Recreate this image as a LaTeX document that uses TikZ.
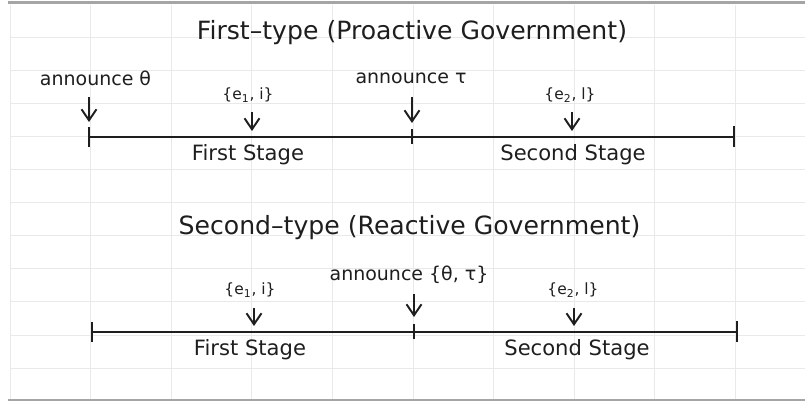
\documentclass[tikz,border=0pt]{standalone}
\usepackage{fontspec}
\setmainfont{DejaVu Sans}
\usetikzlibrary{arrows.meta}

\definecolor{gridgray}{RGB}{233,233,233}
\definecolor{framegray}{RGB}{165,165,165}
\definecolor{ink}{RGB}{30,30,30}

\tikzset{
  >={Straight Barb[length=0.22cm,width=0.3cm]},
  heading/.style={font=\fontsize{14.3}{17}\selectfont,text=ink},
  note/.style={font=\fontsize{10.8}{13}\selectfont,text=ink},
  setlabel/.style={font=\fontsize{8.8}{10}\selectfont,text=ink},
  stagelabel/.style={font=\fontsize{12}{14}\selectfont,text=ink},
  timeline/.style={draw=ink,line width=0.75pt},
  endtick/.style={draw=ink,line width=1.7pt},
  midtick/.style={draw=ink,line width=0.85pt},
  pointer/.style={draw=ink,->,line width=1.1pt}
}

\begin{document}
\begin{tikzpicture}
  \useasboundingbox (0,0) rectangle (16.1,8.06);
  % background sheet
  \draw[gridgray,xstep=1.612,ystep=0.662,shift={(0.2,0.7)}] (0,-0.62) grid (15.9,7.25);
  \draw[framegray,line width=1.7pt] (0.16,8.0) -- (16.1,8.0);
  \draw[framegray,line width=1.7pt] (0.16,0.06) -- (16.1,0.06);

  % first type
  \node[heading] (head1) at (8.24,7.40) {First–type (Proactive Government)};
  \coordinate (s1) at (1.78,5.32);
  \coordinate (m1) at (8.24,5.32);
  \coordinate (e1) at (14.68,5.32);
  \coordinate (c1) at (5.04,5.32);
  \coordinate (d1) at (11.44,5.32);
  \draw[timeline] (s1) -- (e1);
  \draw[endtick] ([yshift=-0.2cm]s1) -- ([yshift=0.2cm]s1);
  \draw[midtick] ([yshift=-0.14cm]m1) -- ([yshift=0.16cm]m1);
  \draw[endtick] ([yshift=-0.21cm]e1) -- ([yshift=0.21cm]e1);
  \node[note] (ann1) at (1.91,6.5) {announce θ};
  \node[note] (ann2) at (8.22,6.5) {announce τ};
  \node[setlabel] (set1) at (4.96,6.16) {\{e\textsubscript{1}, i\}};
  \node[setlabel] (set2) at (11.4,6.16) {\{e\textsubscript{2}, l\}};
  \draw[pointer] ([yshift=0.8cm]s1) -- ([yshift=0.3cm]s1);
  \draw[pointer] ([yshift=0.8cm]m1) -- ([yshift=0.28cm]m1);
  \draw[pointer] ([yshift=0.5cm]c1) -- ([yshift=0.12cm]c1);
  \draw[pointer] ([yshift=0.5cm]d1) -- ([yshift=0.12cm]d1);
  \node[stagelabel] (stage1) at (4.96,4.96) {First Stage};
  \node[stagelabel] (stage2) at (11.46,4.96) {Second Stage};

  % second type
  \node[heading] (head2) at (8.19,3.5) {Second–type (Reactive Government)};
  \coordinate (s2) at (1.84,1.42);
  \coordinate (m2) at (8.28,1.42);
  \coordinate (e2) at (14.74,1.42);
  \coordinate (c2) at (5.08,1.42);
  \coordinate (d2) at (11.48,1.42);
  \draw[timeline] (s2) -- (e2);
  \draw[endtick] ([yshift=-0.2cm]s2) -- ([yshift=0.2cm]s2);
  \draw[midtick] ([yshift=-0.14cm]m2) -- ([yshift=0.16cm]m2);
  \draw[endtick] ([yshift=-0.21cm]e2) -- ([yshift=0.21cm]e2);
  \node[note] (ann3) at (8.18,2.56) {announce \{θ, τ\}};
  \node[setlabel] (set3) at (5.0,2.26) {\{e\textsubscript{1}, i\}};
  \node[setlabel] (set4) at (11.46,2.26) {\{e\textsubscript{2}, l\}};
  \draw[pointer] ([yshift=0.76cm]m2) -- ([yshift=0.3cm]m2);
  \draw[pointer] ([yshift=0.48cm]c2) -- ([yshift=0.12cm]c2);
  \draw[pointer] ([yshift=0.48cm]d2) -- ([yshift=0.12cm]d2);
  \node[stagelabel] (stage3) at (5.0,1.06) {First Stage};
  \node[stagelabel] (stage4) at (11.54,1.06) {Second Stage};
\end{tikzpicture}
\end{document}
